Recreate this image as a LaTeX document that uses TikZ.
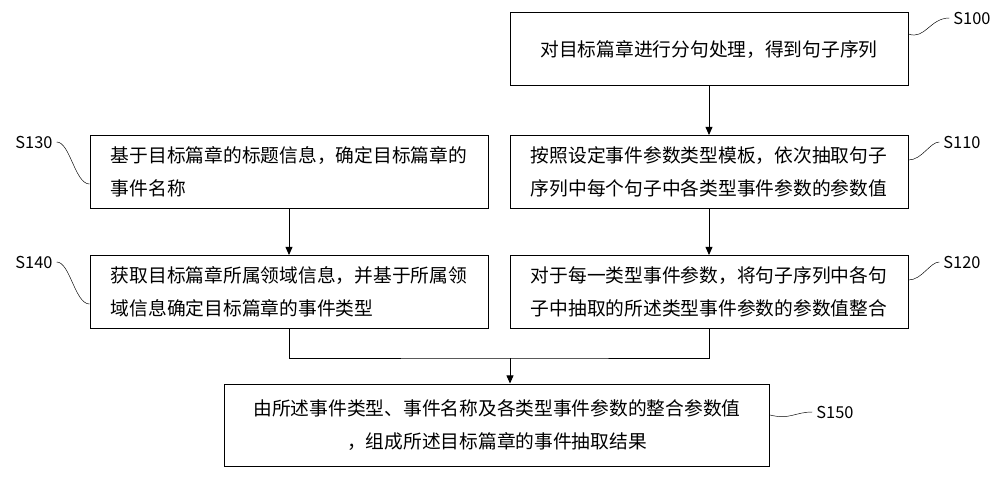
\documentclass[tikz,border=0pt]{standalone}
\usepackage{fontspec}
\setmainfont{Noto Sans CJK SC}
\usetikzlibrary{positioning,arrows.meta}
\tikzset{
  stepbox/.style={draw,thick,minimum width=119.4mm,minimum height=21.9mm,align=left,
    font=\fontsize{16}{28}\selectfont,inner sep=6pt},
  tag/.style={font=\fontsize{14}{16}\selectfont},
  flow/.style={thick,-{Triangle[length=7pt,width=6pt]}},
}
\begin{document}
\begin{tikzpicture}[x=0.3mm,y=-0.3mm]
  \useasboundingbox (0,0) rectangle (1000,488);
  \node[stepbox,align=center] (s100) at (709,49) {对目标篇章进行分句处理，得到句子序列};
  \node[stepbox] (s110) at (709,172) {按照设定事件参数类型模板，依次抽取句子\\序列中每个句子中各类型事件参数的参数值};
  \node[stepbox] (s120) at (709,292) {对于每一类型事件参数，将句子序列中各句\\子中抽取的所述类型事件参数的参数值整合};
  \node[stepbox] (s130) at (289,172) {基于目标篇章的标题信息，确定目标篇章的\\事件名称};
  \node[stepbox] (s140) at (289,292) {获取目标篇章所属领域信息，并基于所属领\\域信息确定目标篇章的事件类型};
  \node[stepbox,minimum width=163.5mm,minimum height=24.6mm,align=center] (s150) at (497,425)
    {由所述事件类型、事件名称及各类型事件参数的整合参数值\\，组成所述目标篇章的事件抽取结果};

  % step tags
  \node[tag] (t100) at (972,18) {S100};
  \node[tag] (t110) at (962,142) {S110};
  \node[tag] (t120) at (962,262) {S120};
  \node[tag] (t130) at (34,142) {S130};
  \node[tag] (t140) at (34,262) {S140};
  \node[tag] (t150) at (835,412) {S150};
  \draw (s100.north east) ++(0,22) coordinate (c100) .. controls (925,40) and (930,18) .. (t100.west);
  \draw (s110.east) ++(0,-12) coordinate (c110) .. controls (922,160) and (930,142) .. (t110.west);
  \draw (s120.east) ++(0,-12) coordinate (c120) .. controls (922,280) and (930,262) .. (t120.west);
  \draw (s130.west) ++(0,12) coordinate (c130) .. controls (75,184) and (70,142) .. (t130.east);
  \draw (s140.west) ++(0,12) coordinate (c140) .. controls (75,304) and (70,262) .. (t140.east);
  \draw (s150.east) ++(0,-10) coordinate (c150) .. controls (790,420) and (795,412) .. (t150.west);

  % arrows
  \draw[flow] (s100) -- (s110);
  \draw[flow] (s110) -- (s120);
  \draw[flow] (s130) -- (s140);
  \coordinate (m) at (510,358);
  \draw[thick] (s140.south) |- (m) -| (s120.south);
  \draw[flow] (m) -- (m |- s150.north);
\end{tikzpicture}
\end{document}
